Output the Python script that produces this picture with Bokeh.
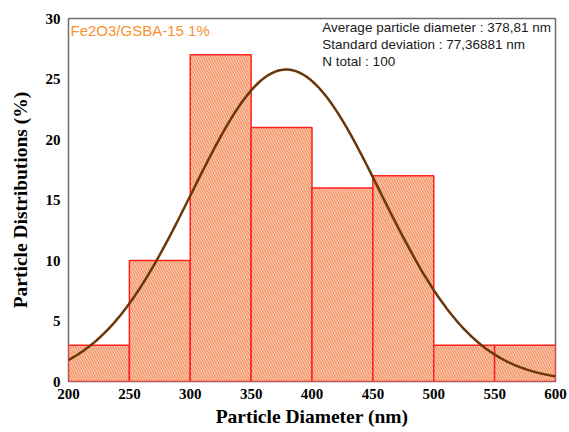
import numpy as np
from bokeh.plotting import figure
from bokeh.models import Label, FixedTicker, Range1d
from bokeh.embed import file_html
from bokeh.resources import INLINE

bin_left = [200, 250, 300, 350, 400, 450, 500, 550]
bin_right = [250, 300, 350, 400, 450, 500, 550, 600]
percent = [3, 10, 27, 21, 16, 17, 3, 3]
mean_d = 378.81
std_d = 77.36881
n_total = 100
x_ticks = [200, 250, 300, 350, 400, 450, 500, 550, 600]
y_ticks = [0, 5, 10, 15, 20, 25, 30]

p = figure(frame_width=487, frame_height=363, output_backend="svg", toolbar_location=None,
           x_range=Range1d(200, 600), y_range=Range1d(0, 30),
           min_border_left=68, min_border_right=14, min_border_top=18, min_border_bottom=51)
p.background_fill_color = "white"
p.border_fill_color = "white"
p.outline_line_color = "#6e6e6e"
p.outline_line_width = 1.5
p.grid.visible = False

p.quad(left=bin_left, right=bin_right, bottom=0, top=percent,
       fill_color="#fbcaa4", line_color="#ff2020", line_width=1.5,
       hatch_pattern="left_diagonal_line", hatch_color="#ec6446",
       hatch_scale=5, hatch_weight=0.7)

bw = bin_right[0] - bin_left[0]
xs = np.linspace(bin_left[0], bin_right[-1], 300)
ys = n_total * bw / (std_d * np.sqrt(2 * np.pi)) * np.exp(-0.5 * ((xs - mean_d) / std_d) ** 2)
p.line(xs, ys, line_color="#6b3608", line_width=2.5)

for ax in (p.xaxis[0], p.yaxis[0]):
    ax.axis_line_color = None
    ax.major_tick_line_color = None
    ax.minor_tick_line_color = None
    ax.major_tick_out = 0
    ax.major_tick_in = 0
    ax.minor_tick_out = 0
    ax.minor_tick_in = 0
    ax.major_label_text_font = "Liberation Serif"
    ax.major_label_text_font_style = "bold"
    ax.major_label_text_font_size = "15px"
    ax.major_label_text_color = "black"
    ax.axis_label_text_font = "Liberation Serif"
    ax.axis_label_text_font_style = "bold"
    ax.axis_label_text_font_size = "19.5px"
    ax.axis_label_text_color = "black"

p.xaxis.ticker = FixedTicker(ticks=x_ticks)
p.yaxis.ticker = FixedTicker(ticks=y_ticks)
p.xaxis.axis_label = "Particle Diameter (nm)"
p.yaxis.axis_label = "Particle Distributions (%)"
p.xaxis.major_label_standoff = 7
p.yaxis.major_label_standoff = 8
p.xaxis.axis_label_standoff = 4
p.yaxis.axis_label_standoff = 12

p.add_layout(Label(x=200, y=30, x_offset=2, y_offset=-3, text="Fe2O3/GSBA-15 1%",
                   text_font="Liberation Sans", text_font_size="15px", text_color="#f7922e",
                   text_baseline="top"))

lines = ["Average particle diameter : 378,81 nm",
         "Standard deviation : 77,36881 nm",
         "N total : 100"]
for i, t in enumerate(lines):
    p.add_layout(Label(x=408.5, y=30, text=t, text_font="Liberation Sans", text_font_size="13.5px",
                       text_color="#1a1a1a", text_baseline="top", y_offset=-1 - 17 * i))

open("out.html", "w").write(file_html(p, INLINE))
